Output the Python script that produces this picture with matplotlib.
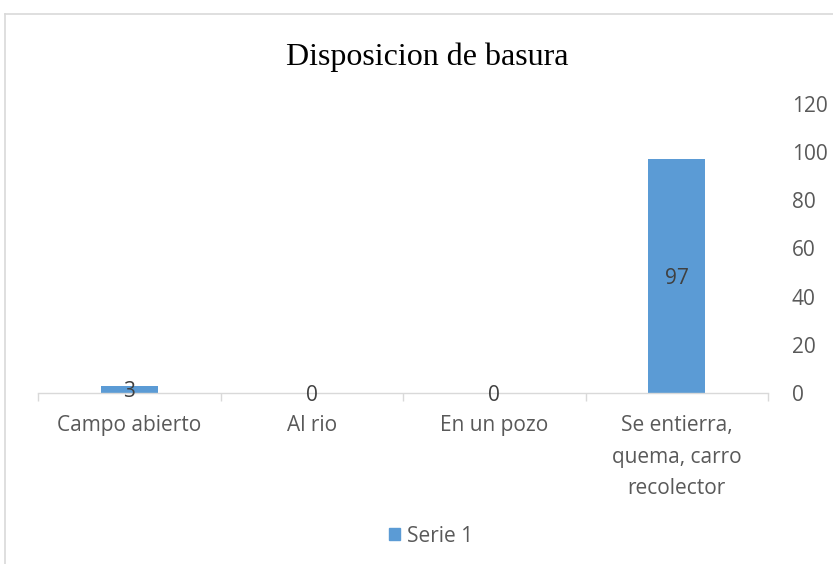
import matplotlib
matplotlib.use("Agg")
import matplotlib.pyplot as plt
from matplotlib.lines import Line2D
from matplotlib.patches import Patch

categories = ["Campo abierto", "Al rio", "En un pozo", "Se entierra,\nquema, carro\nrecolector"]
values = [3, 0, 0, 97]
series_name = "Serie 1"
title = "Disposicion de basura"
yticks = [0, 20, 40, 60, 80, 100, 120]

W, H = 833, 564
fig = plt.figure(figsize=(W/100, H/100), dpi=100)
fig.patch.set_facecolor("white")

font = "Open Sans"
fs = 15
txtc = "#595959"
barc = "#5B9BD5"
gridc = "#D9D9D9"

ax = fig.add_axes([38/W, 1-393/H, (768-38)/W, (393-104)/H])
x = list(range(len(categories)))
ax.bar(x, values, width=0.31, color=barc, zorder=2)
ax.set_xlim(-0.5, len(categories)-0.5)
ax.set_ylim(0, 120)

for s in ["top", "left", "right"]:
    ax.spines[s].set_visible(False)
ax.spines["bottom"].set_color(gridc)
ax.spines["bottom"].set_linewidth(1.0)

ax.yaxis.tick_right()
ax.set_yticks(yticks)
ax.set_yticklabels([str(v) for v in yticks], fontfamily=font, fontsize=fs, color=txtc)
ax.tick_params(axis="y", length=0, pad=17)

ax.set_xticks([i - 0.5 for i in range(len(categories)+1)], minor=False)
ax.set_xticklabels([])
ax.tick_params(axis="x", which="major", length=6, color=gridc, width=1.0)
ax.set_xticks(x, minor=True)
ax.set_xticklabels(categories, minor=True, fontfamily=font, fontsize=fs, color=txtc, linespacing=1.65)
ax.tick_params(axis="x", which="minor", length=0, pad=16)

for xi, v in zip(x, values):
    ax.text(xi, v/2, str(v), ha="center", va="center_baseline", fontfamily=font, fontsize=fs, color="#404040", zorder=3)

fig.text(427/W, 1-57/H, title, ha="center", va="center", fontfamily="Liberation Serif", fontsize=23, color="black")

fig.legend(handles=[Patch(color=barc, label=series_name)], loc="center", bbox_to_anchor=(431/W, 1-536/H),
           frameon=False, prop={"family": font, "size": fs}, labelcolor=txtc,
           handlelength=0.55, handleheight=0.55, handletextpad=0.35)

fig.add_artist(Line2D([5/W, 1], [1-14/H, 1-14/H], color=gridc, lw=1.2, transform=fig.transFigure))
fig.add_artist(Line2D([5/W, 5/W], [1-14/H, 0], color=gridc, lw=1.2, transform=fig.transFigure))

fig.savefig("out.png", dpi=100, facecolor="white")
